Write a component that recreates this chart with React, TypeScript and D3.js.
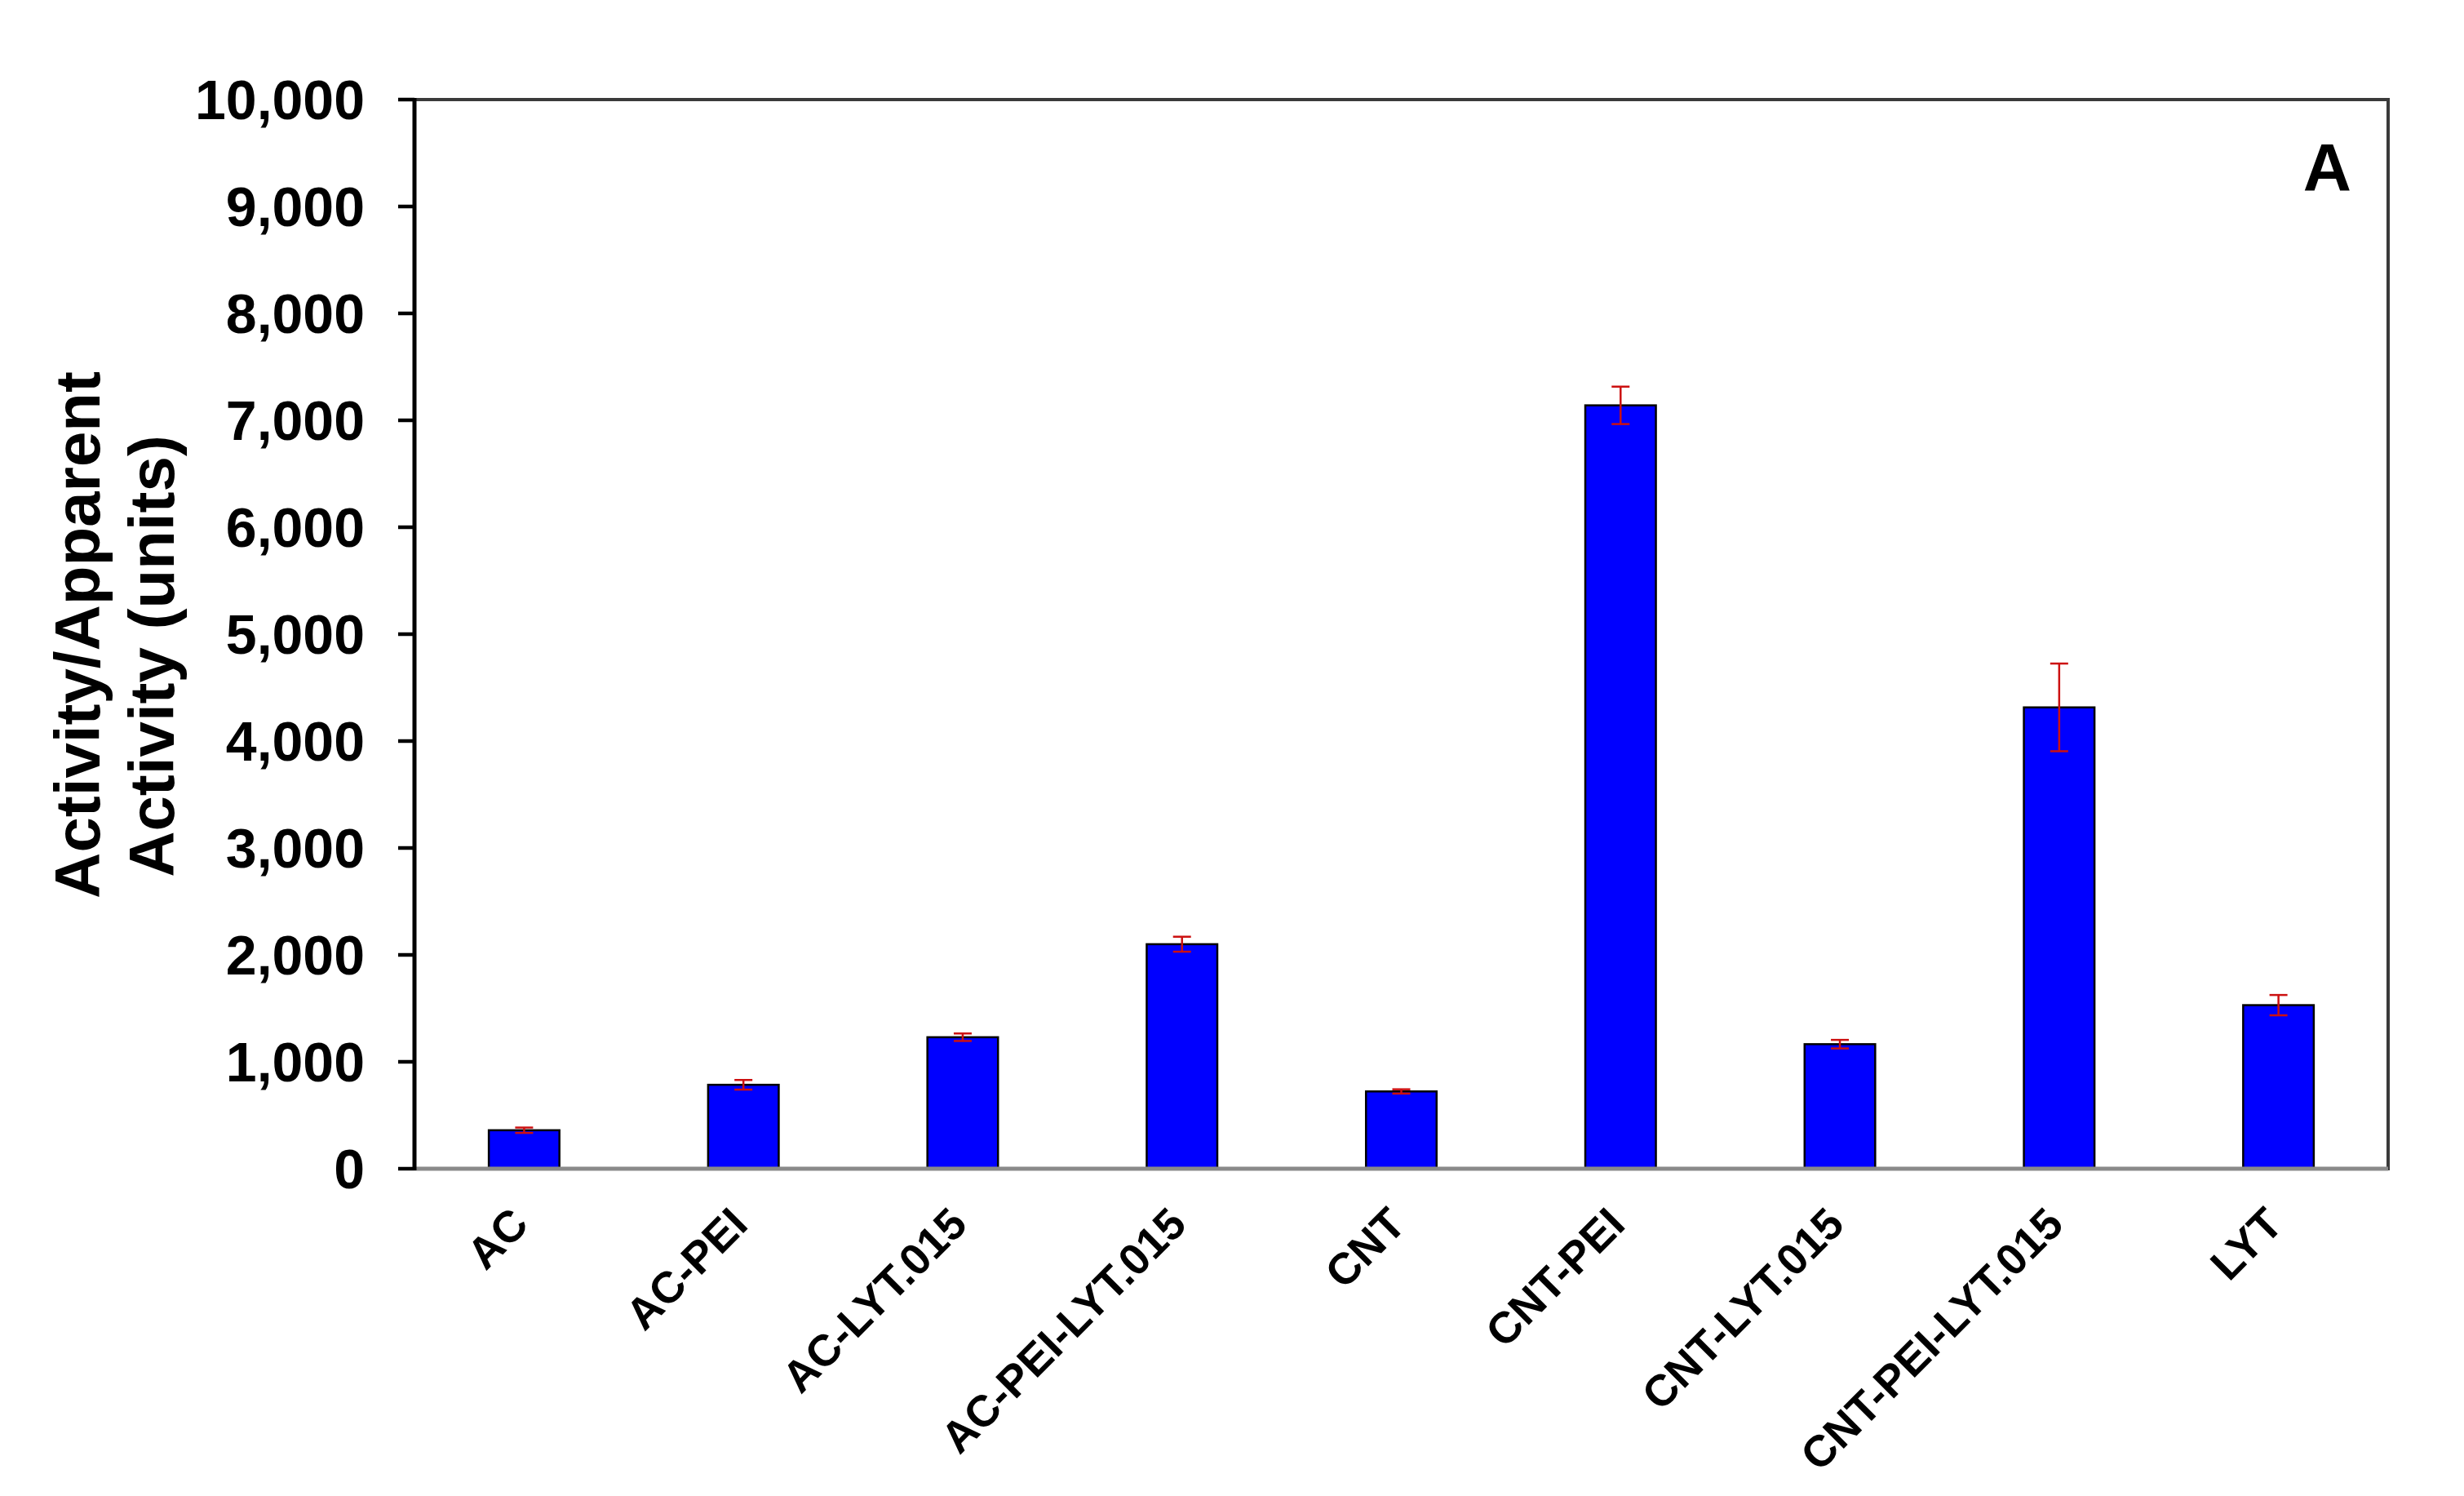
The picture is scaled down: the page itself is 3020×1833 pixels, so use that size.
import React from "react";
import * as d3 from "d3";

const categories = [
  "AC",
  "AC-PEI",
  "AC-LYT.015",
  "AC-PEI-LYT.015",
  "CNT",
  "CNT-PEI",
  "CNT-LYT.015",
  "CNT-PEI-LYT.015",
  "LYT",
];
const activity = [360, 785, 1230, 2100, 723, 7140, 1165, 4315, 1530];
const errors = [25, 45, 35, 70, 20, 175, 40, 410, 95];
const yTicks = [0, 1000, 2000, 3000, 4000, 5000, 6000, 7000, 8000, 9000, 10000];
const yTitleLines = ["Activity/Apparent", "Activity (units)"];
const panelLabel = "A";

const W = 3020;
const H = 1833;
const left = 508;
const right = 2927;
const top = 122;
const bottom = 1432;
const FONT = "'Liberation Sans', Arial, Helvetica, sans-serif";

export default function App() {
  const x = d3
    .scaleBand<string>()
    .domain(categories)
    .range([left, right])
    .paddingInner(0.678)
    .paddingOuter(0.339);
  const y = d3.scaleLinear().domain([0, 10000]).range([bottom, top]);
  const fmt = d3.format(",");
  const bw = x.bandwidth();
  const cap = 11;

  return (
    <svg
      width={W}
      height={H}
      viewBox={`0 0 ${W} ${H}`}
      style={{ position: "absolute", left: 0, top: 0, background: "#fff" }}
    >
      <rect x={0} y={0} width={W} height={H} fill="#fff" />
      {/* plot frame */}
      <rect
        x={left}
        y={top}
        width={right - left}
        height={bottom - top}
        fill="none"
        stroke="#3a3a3a"
        strokeWidth={4}
      />
      {/* bars */}
      {categories.map((c, i) => (
        <rect
          key={c}
          x={x(c)}
          y={y(activity[i])}
          width={bw}
          height={y(0) - y(activity[i])}
          fill="#0000FF"
          stroke="#000"
          strokeWidth={2.5}
        />
      ))}
      {/* baseline */}
      <line x1={left} x2={right} y1={y(0)} y2={y(0)} stroke="#8a8a8a" strokeWidth={5} />
      {/* error bars */}
      {categories.map((c, i) => {
        const cx = (x(c) as number) + bw / 2;
        const y1 = y(activity[i] + errors[i]);
        const y2 = y(activity[i] - errors[i]);
        return (
          <g key={"e" + c} stroke="#CC1111" strokeWidth={2.5}>
            <line x1={cx} x2={cx} y1={y1} y2={y2} />
            <line x1={cx - cap} x2={cx + cap} y1={y1} y2={y1} />
            <line x1={cx - cap} x2={cx + cap} y1={y2} y2={y2} />
          </g>
        );
      })}
      {/* y axis */}
      <line x1={left} x2={left} y1={top - 2} y2={bottom + 2} stroke="#000" strokeWidth={5} />
      {yTicks.map((t) => (
        <g key={t}>
          <line x1={left - 20} x2={left} y1={y(t)} y2={y(t)} stroke="#000" strokeWidth={4.5} />
          <text
            x={447}
            y={y(t)}
            dy="0.36em"
            textAnchor="end"
            fontFamily={FONT}
            fontWeight="bold"
            fontSize={68}
            fill="#000"
          >
            {fmt(t)}
          </text>
        </g>
      ))}
      {/* x labels */}
      {categories.map((c) => {
        const ax = (x(c) as number) + bw / 2 + 8;
        const ay = 1503;
        return (
          <text
            key={"l" + c}
            x={ax}
            y={ay}
            textAnchor="end"
            transform={`rotate(-45 ${ax} ${ay})`}
            fontFamily={FONT}
            fontWeight="bold"
            fontSize={54}
            fill="#000"
          >
            {c}
          </text>
        );
      })}
      {/* y title */}
      <text
        transform={`translate(122, 778) rotate(-90)`}
        textAnchor="middle"
        fontFamily={FONT}
        fontWeight="bold"
        fontSize={78}
        fill="#000"
      >
        {yTitleLines[0]}
      </text>
      <text
        transform={`translate(213, 804) rotate(-90)`}
        textAnchor="middle"
        fontFamily={FONT}
        fontWeight="bold"
        fontSize={78}
        fill="#000"
      >
        {yTitleLines[1]}
      </text>
      {/* panel label */}
      <text
        x={2882}
        y={233}
        textAnchor="end"
        fontFamily={FONT}
        fontWeight="bold"
        fontSize={82}
        fill="#000"
      >
        {panelLabel}
      </text>
    </svg>
  );
}
